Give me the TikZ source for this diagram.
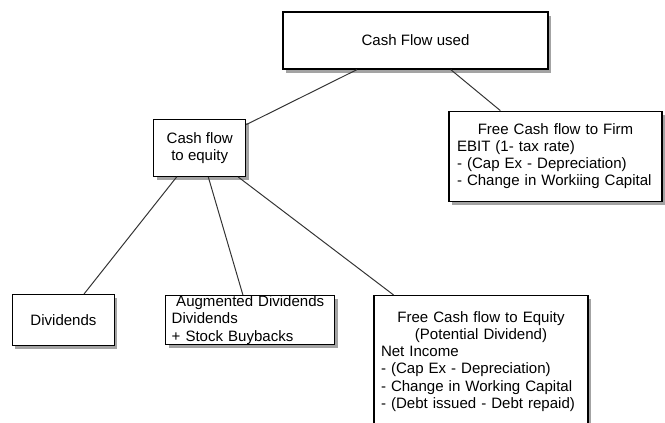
\documentclass[tikz,border=0pt]{standalone}
\usepackage{fontspec}
\setmainfont{Liberation Sans}
\usepackage{xcolor}
\usepackage{tikz}
\usetikzlibrary{positioning, shadows}
\tikzset{
    box/.style={rectangle, draw=black, line width=0.9pt, fill=white, align=center,
        font=\fontsize{10.7pt}{12.2pt}\selectfont, inner sep=0pt,
        drop shadow={shadow xshift=2pt, shadow yshift=-2.5pt, fill=black!60, opacity=0.6}},
    listbox/.style={box, align=left},
    link/.style={draw=black!80, line width=0.7pt},
}
\newcommand{\midline}[1]{\hspace*{\fill}#1\hspace*{\fill}\mbox{}}

\begin{document}
\begin{tikzpicture}
    \useasboundingbox (0,0) rectangle (16.625,-10.575);
    \node[box, minimum width=6.625cm, minimum height=1.425cm] (used) at (10.3875,-1.0125) {Cash Flow used};
    \node[box, minimum width=2.3cm, minimum height=1.425cm, below left=1.225cm and 0.9cm of used] (cfe) {Cash flow\\to equity};
    \node[listbox, text width=4.925cm, inner xsep=0.2cm, minimum height=2.25cm, below=1.025cm of used, xshift=3.5cm] (fcff)
        {\midline{Free Cash flow to Firm}\\EBIT (1- tax rate)\\- (Cap Ex - Depreciation)\\- Change in Workiing Capital};
    \node[box, minimum width=2.55cm, minimum height=1.275cm, below left=2.925cm and 0.95cm of cfe] (div) {Dividends};
    \node[listbox, text width=3.925cm, inner xsep=0.15cm, minimum height=1.225cm, right=1.25cm of div] (aug)
        {\midline{Augmented Dividends}\\Dividends\\+ Stock Buybacks};
    \node[listbox, text width=5cm, inner xsep=0.175cm, inner ysep=0.4cm, right=0.95cm of aug.north east, anchor=north west] (fcfe)
        {\midline{Free Cash flow to Equity}\\\midline{(Potential Dividend)}\\Net Income\\- (Cap Ex - Depreciation)\\- Change in Working Capital\\- (Debt issued - Debt repaid)};
    \draw[link] (used) -- (cfe);
    \draw[link] (used) -- (fcff);
    \draw[link] (cfe) -- (div);
    \draw[link] (cfe) -- (aug);
    \draw[link] (cfe) -- (fcfe);
\end{tikzpicture}
\end{document}
